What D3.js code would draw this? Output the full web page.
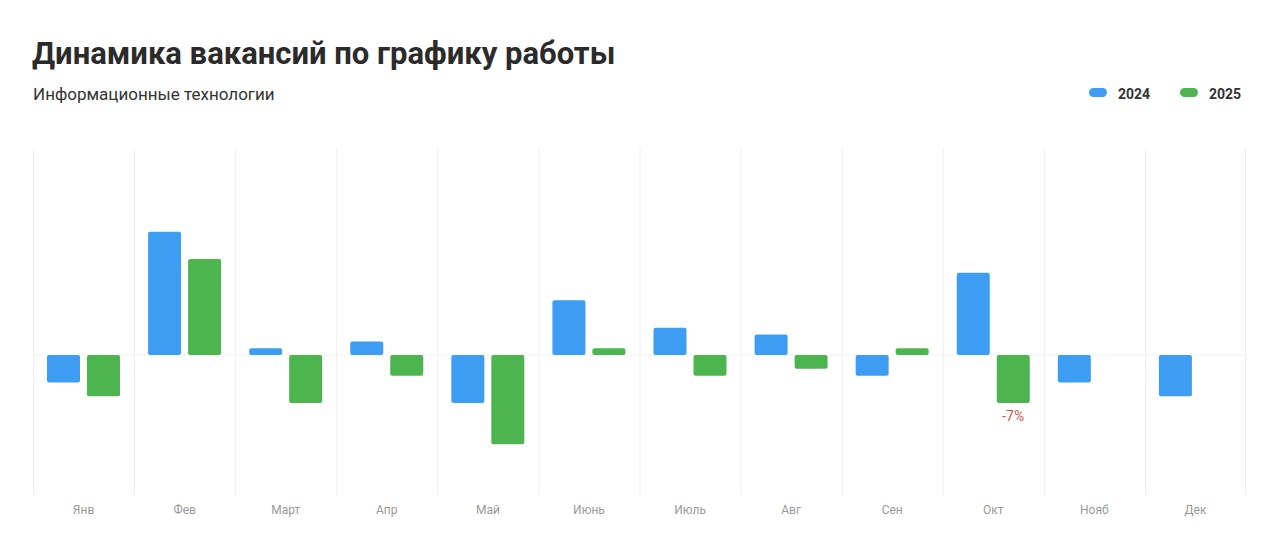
<!DOCTYPE html>
<html><head><meta charset="utf-8">
<script src="https://cdn.jsdelivr.net/npm/d3@7"></script>
<style>body{margin:0;background:#fff;font-family:Roboto,"Noto Sans",sans-serif}</style>
</head><body>
<script>
// data
var months = ["Янв","Фев","Март","Апр","Май","Июнь","Июль","Авг","Сен","Окт","Нояб","Дек"];
var values2024 = [-4, 18, 1, 2, -7, 8, 4, 3, -3, 12, -4, -6];
var values2025 = [-6, 14, -7, -3, -13, 1, -3, -2, 1, -7, null, null];
var labelled = {month: "Окт", series: "2025", text: "-7%"};

var svg = d3.select("body").append("svg").attr("width", 1280).attr("height", 549);

svg.append("text").attr("x", 32).attr("y", 64).attr("font-size", 31).attr("font-weight", 700)
  .attr("fill", "#2b2b2b").text("Динамика вакансий по графику работы");
svg.append("text").attr("x", 33).attr("y", 100).attr("font-size", 17).attr("fill", "#333")
  .text("Информационные технологии");

// legend
[["2024","#3d9df2",1089],["2025","#4cb54f",1180]].forEach(function(l){
  svg.append("rect").attr("x", l[2]).attr("y", 88).attr("width", 18).attr("height", 9).attr("rx", 4.5).attr("fill", l[1]);
  svg.append("text").attr("x", l[2] + 29).attr("y", 99).attr("font-size", 14).attr("font-weight", 700)
    .attr("fill", "#333").text(l[0]);
});

var x = d3.scaleBand().domain(months).range([33, 1246]);
var y = d3.scaleLinear().domain([-20.4, 30.2]).range([495, 148]);

var g = svg.append("g");
// vertical grid
x.domain().forEach(function(m){
  g.append("line").attr("x1", x(m)+0.5).attr("x2", x(m)+0.5).attr("y1", 148).attr("y2", 495).attr("stroke", "#eeeeee");
});
g.append("line").attr("x1", 1245.5).attr("x2", 1245.5).attr("y1", 148).attr("y2", 495).attr("stroke", "#eeeeee");
g.append("line").attr("x1", 33).attr("x2", 1246).attr("y1", y(0)).attr("y2", y(0)).attr("stroke", "#f0f0f0");

var series = [{name:"2024", vals: values2024, color:"#3d9df2", off:14},
              {name:"2025", vals: values2025, color:"#4cb54f", off:54}];
series.forEach(function(s){
  var d = months.map(function(m,i){return {m:m, v:s.vals[i]};}).filter(function(d){return d.v !== null;});
  g.selectAll(null).data(d).enter().append("rect")
    .attr("x", function(d){return x(d.m) + s.off;})
    .attr("y", function(d){return y(Math.max(0, d.v));})
    .attr("width", 33)
    .attr("height", function(d){return Math.abs(y(d.v) - y(0));})
    .attr("rx", 2).attr("fill", s.color);
  d.forEach(function(d){
    if (d.m === labelled.month && s.name === labelled.series) {
      g.append("text").attr("x", x(d.m) + s.off + 16.5).attr("y", y(d.v) + 18)
        .attr("text-anchor", "middle").attr("font-size", 14).attr("fill", "#d9534f").text(labelled.text);
    }
  });
});

// x axis labels
var xAxis = svg.append("g").attr("transform", "translate(0,495)")
  .call(d3.axisBottom(x).tickSize(0).tickPadding(10));
xAxis.select(".domain").remove();
xAxis.selectAll("text").attr("font-size", 12).attr("fill", "#999").attr("font-family", "Roboto,sans-serif");
</script>
</body></html>
